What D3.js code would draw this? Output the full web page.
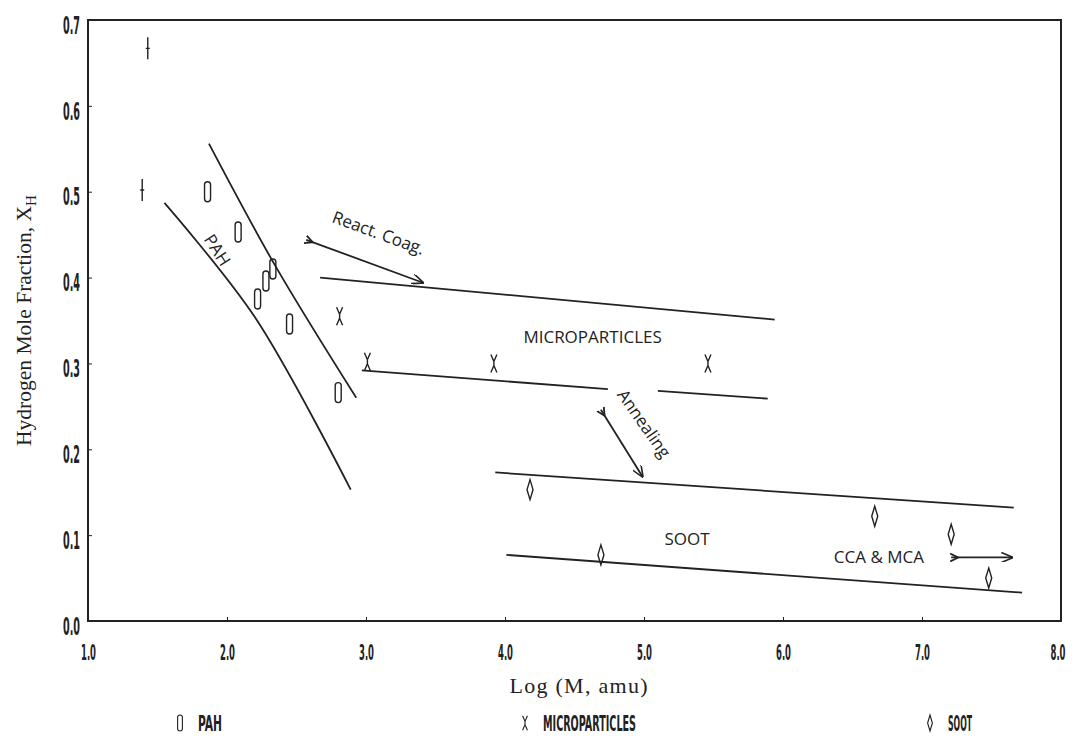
<!DOCTYPE html>
<html>
<head>
<meta charset="utf-8">
<script src="https://cdn.jsdelivr.net/npm/d3@7"></script>
<style>
  body { margin: 0; background: #fff; }
  .tick text, .legend-text {
    font-family: "Liberation Sans Narrow", "DejaVu Sans Condensed", sans-serif;
    font-weight: bold;
    fill: #222;
  }
  .axis-title { font-family: "Liberation Serif", serif; fill: #222; }
  .note { font-family: "Open Sans", "Liberation Sans", sans-serif; fill: #222; }
</style>
</head>
<body>
<div id="wrapper"></div>
<script>
// Data
const xTicks = [1, 2, 3, 4, 5, 6, 7, 8];
const yTicks = [0, 0.1, 0.2, 0.3, 0.4, 0.5, 0.6, 0.7];

const pahX = [1.86, 2.08, 2.33, 2.28, 2.22, 2.45, 2.80];
const pahY = [0.50, 0.453, 0.41, 0.396, 0.375, 0.346, 0.266];

const microX = [2.81, 3.01, 3.92, 5.46];
const microY = [0.355, 0.302, 0.300, 0.300];

const sootX = [4.18, 4.69, 6.66, 7.21, 7.48];
const sootY = [0.153, 0.077, 0.122, 0.101, 0.050];

const otherX = [1.43, 1.39];
const otherY = [0.667, 0.502];

// hand-drawn band curves
const pahUpper = [[1.87, 0.556], [2.35, 0.413], [2.93, 0.26]];
const pahLower = [[1.55, 0.487], [2.2, 0.354], [2.89, 0.153]];
const microUpper = [[2.67, 0.40], [5.94, 0.351]];
const microLowerA = [[2.97, 0.292], [4.74, 0.270]];
const microLowerB = [[5.10, 0.268], [5.89, 0.259]];
const sootUpper = [[3.93, 0.173], [7.66, 0.132]];
const sootLower = [[4.01, 0.077], [7.72, 0.033]];

const arrows = [
  [[2.57, 0.444], [3.41, 0.394]],
  [[4.69, 0.246], [4.99, 0.168]],
  [[7.21, 0.074], [7.65, 0.074]],
];

const notes = ["React. Coag.", "MICROPARTICLES", "Annealing", "SOOT", "CCA & MCA", "PAH"];
const noteX = [3.09, 4.63, 5.0, 5.31, 6.69, 1.93];
const noteY = [0.452, 0.331, 0.230, 0.096, 0.075, 0.432];
const noteAngle = [20, 0, 55, 0, 0, 57];

const legendLabels = ["PAH", "MICROPARTICLES", "SOOT"];

// Dimensions
const dimensions = {
  width: 1080,
  height: 737,
  margin: { top: 20, right: 19, bottom: 116, left: 88 },
};

const wrapper = d3.select("#wrapper")
  .append("svg")
  .attr("width", dimensions.width)
  .attr("height", dimensions.height);

const x = d3.scaleLinear().domain([1, 8])
  .range([dimensions.margin.left, dimensions.width - dimensions.margin.right]);
const y = d3.scaleLinear().domain([0, 0.7])
  .range([dimensions.height - dimensions.margin.bottom, dimensions.margin.top]);

const ink = "#222";

// frame
wrapper.append("rect")
  .attr("x", x(1)).attr("y", y(0.7))
  .attr("width", x(8) - x(1)).attr("height", y(0) - y(0.7))
  .attr("fill", "none").attr("stroke", ink).attr("stroke-width", 2);

// axes
const yAxis = wrapper.append("g")
  .attr("transform", `translate(${x(1)},0)`)
  .call(d3.axisLeft(y).tickValues(yTicks).tickSize(-4).tickPadding(8).tickFormat(d3.format(".1f")));
yAxis.select(".domain").remove();
yAxis.selectAll(".tick line").attr("stroke", ink);
yAxis.selectAll(".tick text")
  .attr("font-size", 24).attr("dy", "0.55em")
  .attr("textLength", 17).attr("lengthAdjust", "spacingAndGlyphs");

const xAxis = wrapper.append("g")
  .attr("transform", `translate(0,${y(0)})`)
  .call(d3.axisBottom(x).tickValues(xTicks).tickSize(-4).tickPadding(23).tickFormat(d3.format(".1f")));
xAxis.select(".domain").remove();
xAxis.selectAll(".tick line").attr("stroke", ink);
xAxis.selectAll(".tick text")
  .attr("font-size", 22)
  .attr("textLength", 15).attr("lengthAdjust", "spacingAndGlyphs");
// last label sits on the right edge: anchor it by its end
xAxis.selectAll(".tick text")
  .filter((d) => d === 8)
  .attr("text-anchor", "end")
  .attr("x", 4);

// axis titles
wrapper.append("text")
  .attr("class", "axis-title")
  .attr("x", (x(1) + x(8)) / 2 + 4)
  .attr("y", 693)
  .attr("text-anchor", "middle")
  .attr("font-size", 22)
  .attr("textLength", 138)
  .text("Log  (M, amu)");

const yTitle = wrapper.append("text")
  .attr("class", "axis-title")
  .attr("transform", `translate(31,${(y(0) + y(0.7)) / 2}) rotate(-90)`)
  .attr("text-anchor", "middle")
  .attr("font-size", 21.5);
yTitle.append("tspan").text("Hydrogen Mole Fraction, X");
yTitle.append("tspan").attr("font-size", 15).attr("dy", 5).text("H");

// curves
const line = d3.line().x((d) => x(d[0])).y((d) => y(d[1])).curve(d3.curveCatmullRom);
[pahUpper, pahLower, microUpper, microLowerA, microLowerB, sootUpper, sootLower].forEach((c) => {
  wrapper.append("path")
    .attr("d", line(c))
    .attr("fill", "none")
    .attr("stroke", ink)
    .attr("stroke-width", 1.8);
});

// arrows
const defs = wrapper.append("defs");
defs.append("marker")
  .attr("id", "head")
  .attr("viewBox", "0 0 12 10")
  .attr("refX", 11).attr("refY", 5)
  .attr("markerWidth", 12).attr("markerHeight", 10)
  .attr("markerUnits", "userSpaceOnUse")
  .attr("orient", "auto")
  .append("path")
  .attr("d", "M0,0 L12,5 L0,10")
  .attr("fill", "none").attr("stroke", ink).attr("stroke-width", 1.6);
defs.append("marker")
  .attr("id", "tail")
  .attr("viewBox", "0 0 12 10")
  .attr("refX", 1).attr("refY", 5)
  .attr("markerWidth", 12).attr("markerHeight", 10)
  .attr("markerUnits", "userSpaceOnUse")
  .attr("orient", "auto")
  .append("path")
  .attr("d", "M0,1 L8,5 L0,9")
  .attr("fill", "none").attr("stroke", ink).attr("stroke-width", 1.8);

arrows.forEach((a) => {
  wrapper.append("path")
    .attr("d", d3.line().x((d) => x(d[0])).y((d) => y(d[1]))(a))
    .attr("stroke", ink)
    .attr("stroke-width", 1.8)
    .attr("marker-start", "url(#tail)")
    .attr("marker-end", "url(#head)");
});

// notes
notes.forEach((t, i) => {
  wrapper.append("text")
    .attr("class", "note")
    .attr("transform", `translate(${x(noteX[i])},${y(noteY[i])}) rotate(${noteAngle[i]})`)
    .attr("text-anchor", "middle")
    .attr("dy", "0.35em")
    .attr("font-size", 17)
    .text(t);
});

// marker shapes
const pahPath = "M-3,-7 Q-3,-10 0,-10 Q3,-10 3,-7 L3,7 Q3,10 0,10 Q-3,10 -3,7 Z";
const microPath = "M-3,-9 L0,-2 L3,-9 M0,-2 L0,2 M-3,9 L0,2 L3,9";
const sootPath = "M0,-10 L3,0 L0,10 L-3,0 Z";
const otherPath = "M0,-11 L0,11 M-2,0 L2,0";

function drawPoints(xs, ys, p) {
  wrapper.append("g")
    .selectAll("path")
    .data(xs.map((d, i) => [d, ys[i]]))
    .join("path")
    .attr("transform", (d) => `translate(${x(d[0])},${y(d[1])})`)
    .attr("d", p)
    .attr("fill", "none")
    .attr("stroke", ink)
    .attr("stroke-width", 1.4);
}
drawPoints(pahX, pahY, pahPath);
drawPoints(microX, microY, microPath);
drawPoints(sootX, sootY, sootPath);
drawPoints(otherX, otherY, otherPath);

// legend
const legendX = [180, 525, 930];
const legendW = [24, 93, 24];
const legendPaths = [pahPath, microPath, sootPath];
legendLabels.forEach((l, i) => {
  const g = wrapper.append("g").attr("transform", `translate(${legendX[i]},723)`);
  g.append("path")
    .attr("d", legendPaths[i])
    .attr("transform", "scale(0.8)")
    .attr("fill", "none").attr("stroke", ink).attr("stroke-width", 1.4);
  g.append("text")
    .attr("class", "legend-text")
    .attr("x", 18)
    .attr("y", 8)
    .attr("font-size", 21)
    .attr("textLength", legendW[i])
    .attr("lengthAdjust", "spacingAndGlyphs")
    .text(l);
});
</script>
</body>
</html>
